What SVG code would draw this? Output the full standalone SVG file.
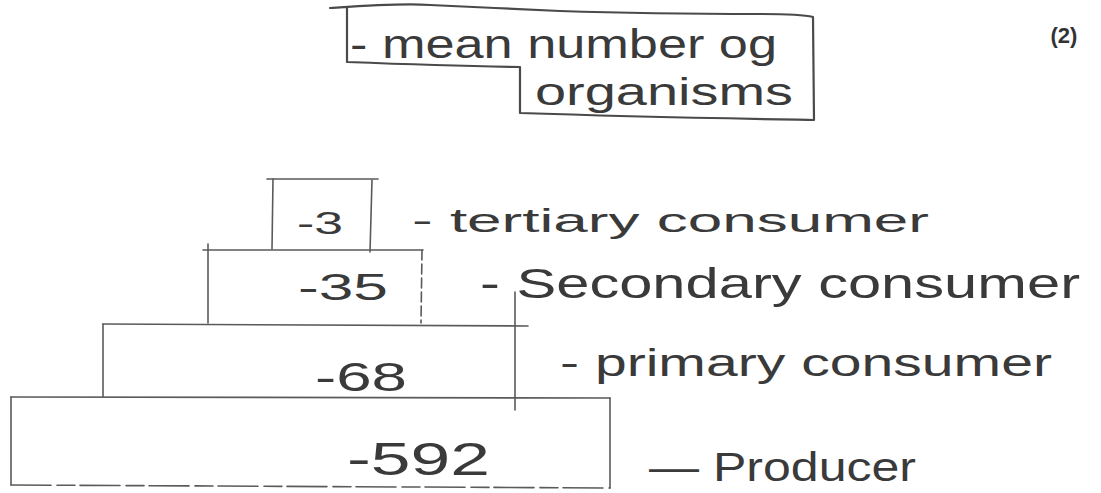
<svg xmlns="http://www.w3.org/2000/svg" width="1101" height="493" viewBox="0 0 1101 493">
<style>
.ln{stroke:#5a5a5a;stroke-width:1.6;fill:none;stroke-linecap:round;stroke-linejoin:round}
.pen{stroke:#4a4a4a;stroke-width:2.2;fill:none;stroke-linecap:round;stroke-linejoin:round}
.hw{font-family:"Liberation Sans","DejaVu Sans",sans-serif;fill:#3a3a3a;font-weight:normal}
.mk{font-family:"Liberation Sans","DejaVu Sans",sans-serif;fill:#333;font-weight:bold}
</style>
<rect width="1101" height="493" fill="#ffffff"/>
<g id="answer-box">
<path class="pen" d="M330,8 C360,6 400,3 430,5 C470,7 520,9 560,11 C620,13 700,14 760,14 C790,14 805,15 813,17 L814,120 C760,119 640,117 520,113 L520,67 C460,66 400,64 347,62 L347,8"/>
<text class="hw" x="350" y="58" font-size="40" textLength="427" lengthAdjust="spacingAndGlyphs">- mean number og</text>
<text class="hw" x="535" y="105" font-size="38" textLength="258" lengthAdjust="spacingAndGlyphs">organisms</text>
</g>
<g id="mark">
<text class="mk" x="1064" y="43" font-size="22" text-anchor="middle">(2)</text>
</g>
<g id="pyramid-lines">
<line class="ln" x1="267" y1="179" x2="378" y2="179"/>
<line class="ln" x1="273" y1="179" x2="272" y2="249"/>
<line class="ln" x1="372" y1="180" x2="370" y2="252" stroke-width="2.4"/>
<line class="ln" x1="203" y1="250" x2="423" y2="250"/>
<line class="ln" x1="208" y1="244" x2="208" y2="323"/>
<line class="ln" x1="422" y1="250" x2="421" y2="323" stroke-dasharray="10 4"/>
<line class="ln" x1="103" y1="324" x2="528" y2="326"/>
<line class="ln" x1="103" y1="324" x2="103" y2="397"/>
<line class="ln" x1="515" y1="292" x2="515" y2="410"/>
<line class="ln" x1="11" y1="397" x2="610" y2="398"/>
<line class="ln" x1="11" y1="397" x2="11" y2="485"/>
<line class="ln" x1="610" y1="398" x2="610" y2="488"/>
<line class="ln" x1="11" y1="485" x2="610" y2="488" stroke-dasharray="40 6 18 5"/>
</g>
<g id="tertiary">
<text class="hw" x="297" y="234" font-size="32" textLength="46" lengthAdjust="spacingAndGlyphs">-3</text>
<text class="hw" x="412" y="232" font-size="34" textLength="517" lengthAdjust="spacingAndGlyphs">- tertiary consumer</text>
</g>
<g id="secondary">
<text class="hw" x="298" y="300" font-size="36" textLength="90" lengthAdjust="spacingAndGlyphs">-35</text>
<text class="hw" x="480" y="298" font-size="42" textLength="600" lengthAdjust="spacingAndGlyphs">- Secondary consumer</text>
</g>
<g id="primary">
<text class="hw" x="315" y="391" font-size="40" textLength="92" lengthAdjust="spacingAndGlyphs">-68</text>
<text class="hw" x="560" y="376" font-size="38" textLength="492" lengthAdjust="spacingAndGlyphs">- primary consumer</text>
</g>
<g id="producer">
<text class="hw" x="347" y="475" font-size="46" textLength="143" lengthAdjust="spacingAndGlyphs">-592</text>
<text class="hw" x="649" y="481" font-size="40" textLength="267" lengthAdjust="spacingAndGlyphs">— Producer</text>
</g>
</svg>
